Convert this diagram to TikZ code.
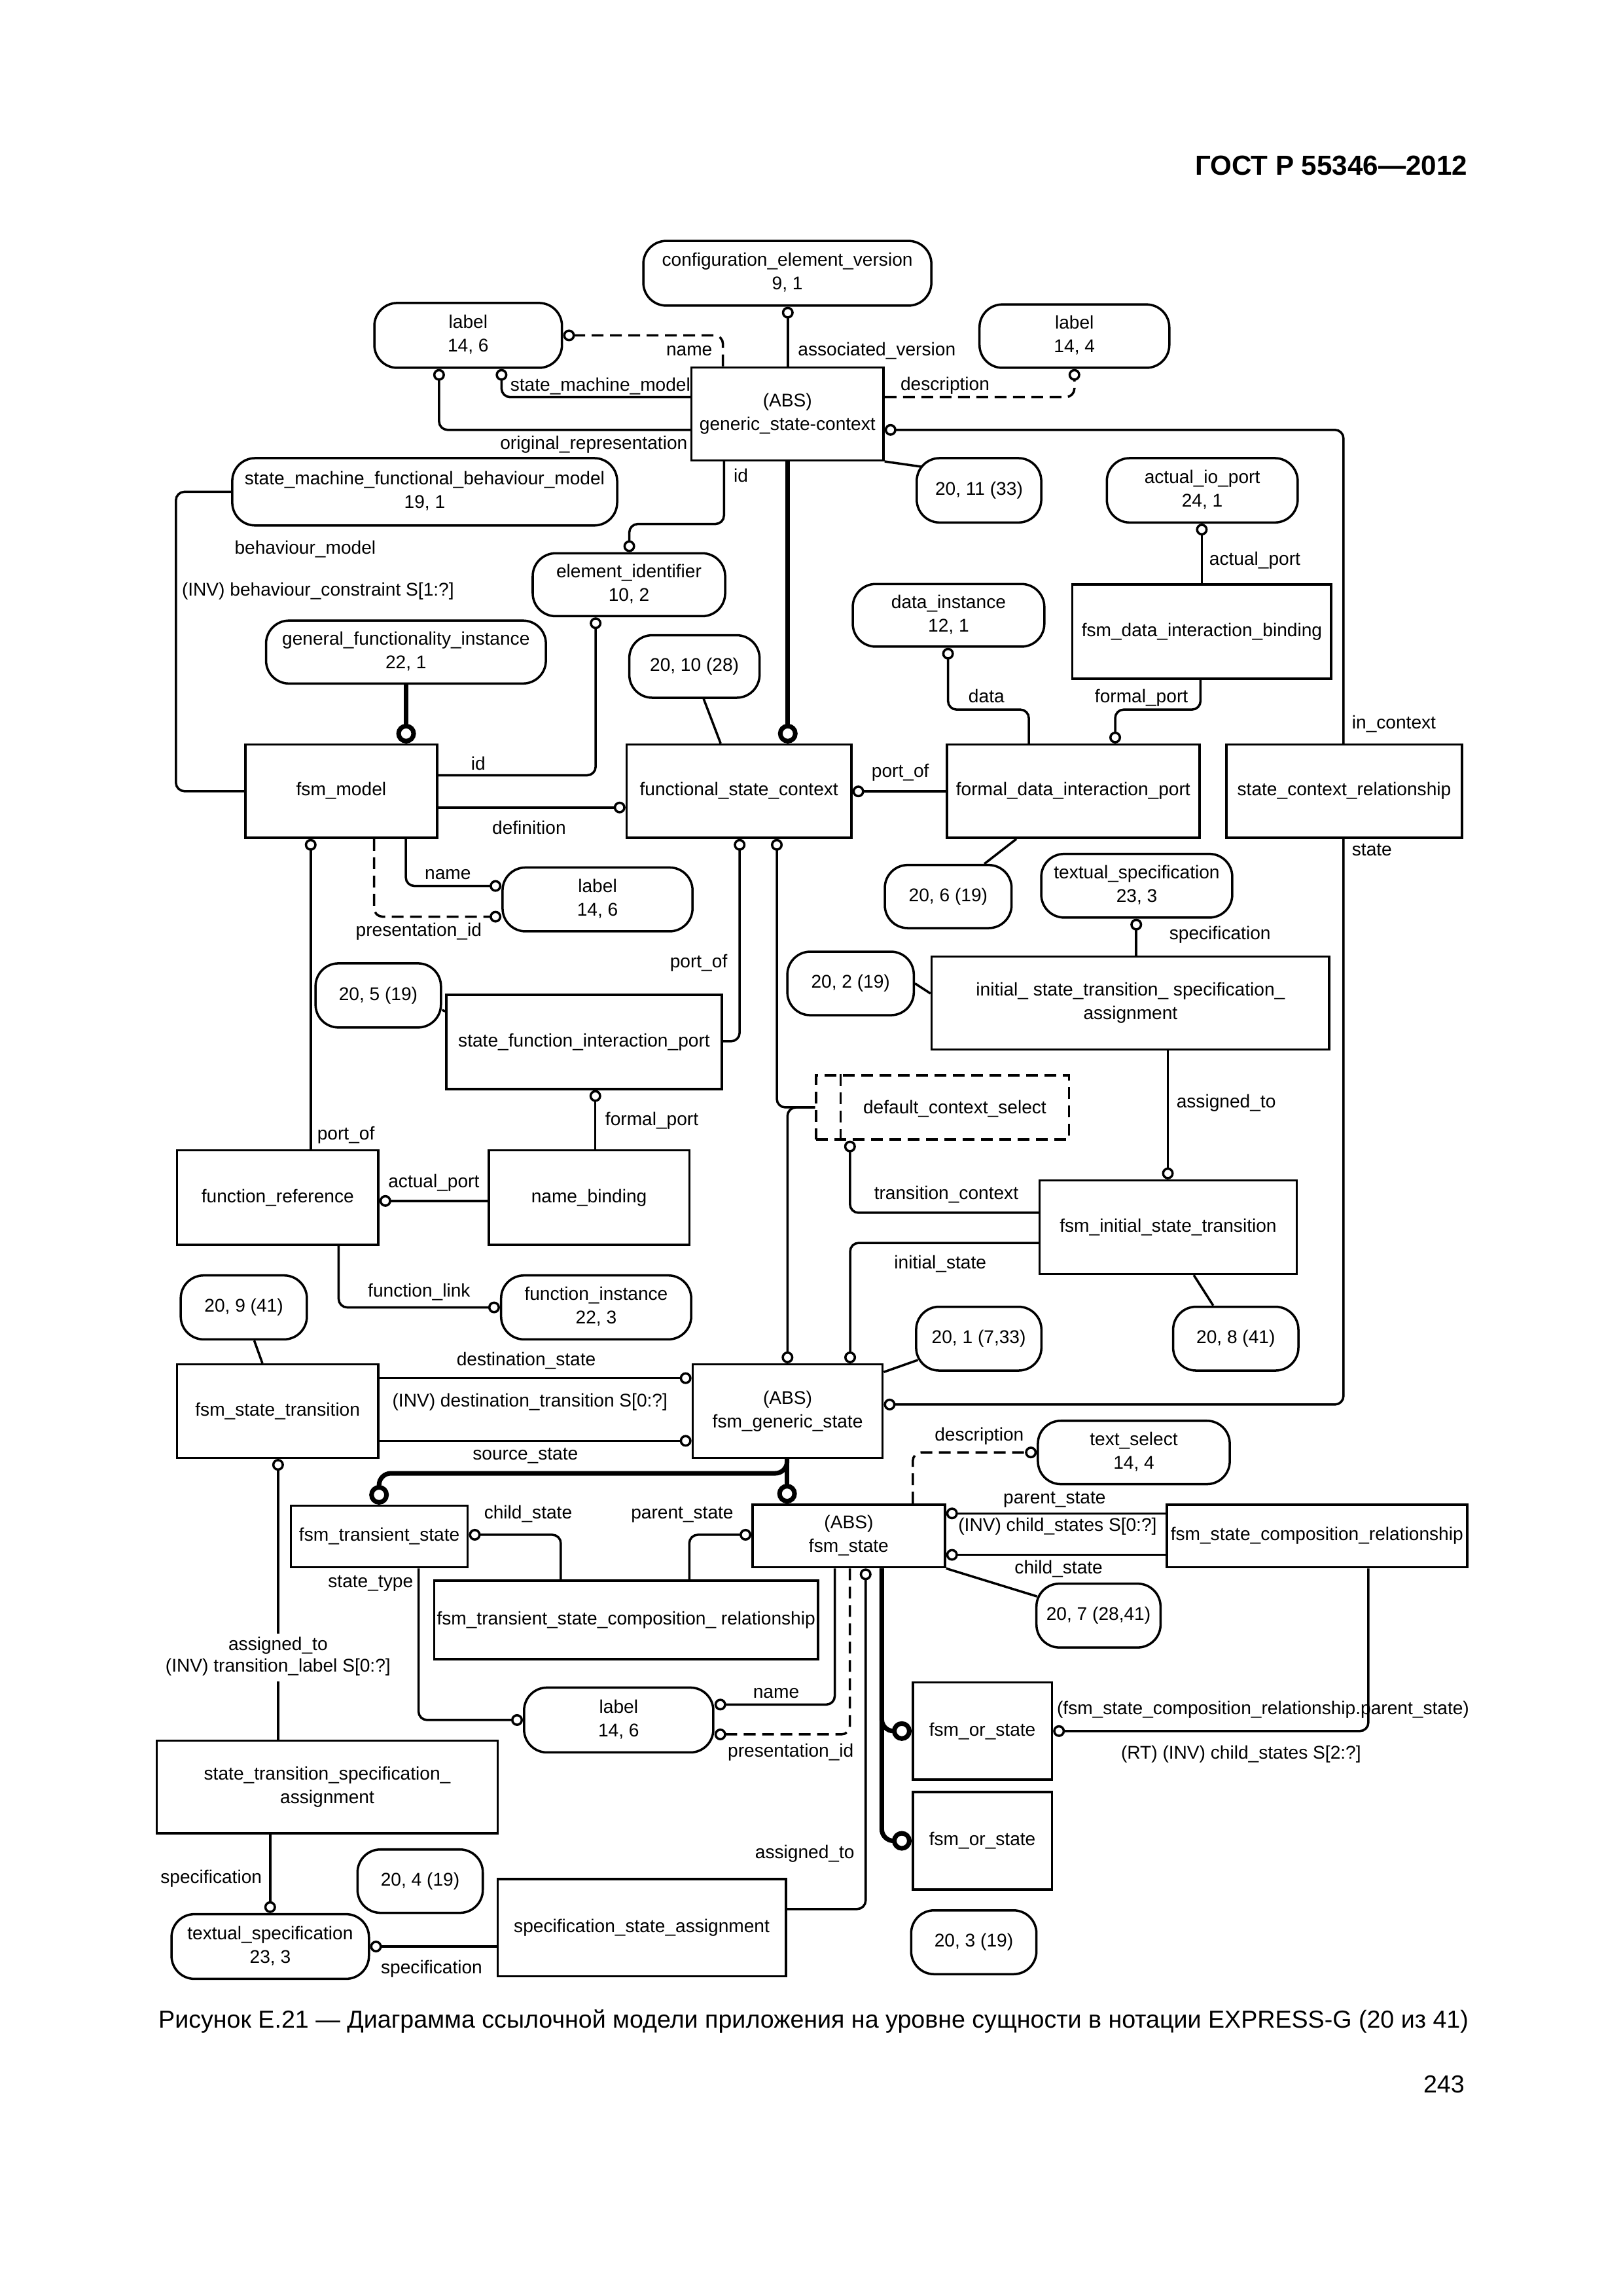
\documentclass[tikz,border=0pt]{standalone}
\usepackage{fontspec}
\setmainfont{Liberation Sans}
\usetikzlibrary{arrows.meta,fit,calc}
\newcommand{\fs}{\fontsize{8}{10.2}\selectfont}
\newcommand{\ent}[6]{\node[ebox, fit={(#2,#3) (#4,#5)}] (#1) {};
  \node[txt] (#1t) at (#1.center) {\begin{tabular}{@{}c@{}}#6\end{tabular}};}
\newcommand{\stad}[6]{\node[sbox, fit={(#2,#3) (#4,#5)}] (#1) {};
  \node[txt] (#1t) at (#1.center) {\begin{tabular}{@{}c@{}}#6\end{tabular}};}
\begin{document}
\begin{tikzpicture}[x=0.22362mm,y=-0.22362mm,
  ebox/.style={draw, line width=1pt, inner sep=0pt},
  sbox/.style={draw, line width=1pt, rounded corners=3.5mm, inner sep=0pt},
  txt/.style={inner sep=0pt, font=\fs},
  conn/.style={line width=1pt, rounded corners=1.3mm},
  thk/.style={line width=2pt, rounded corners=1.8mm},
  oc/.style={-{Circle[open,length=1.8mm,width=1.8mm]}},
  OC/.style={-{Circle[open,length=3mm,width=3mm]}},
  dsh/.style={dash pattern=on 1.8mm off 1mm},
  lbl/.style={inner sep=0pt, font=\fs, text height=6pt, text depth=0.5pt},
]
\useasboundingbox (0,0) rectangle (1109,1568.7);

% header, caption, page number
\node[anchor=east, inner sep=0pt, font=\bfseries\fontsize{12}{14}\selectfont] (hdr) at (1003,113) {ГОСТ Р 55346—2012};
\node[anchor=west, inner sep=0pt, font=\fontsize{10.7}{12}\selectfont] (cap) at (108,1381) {Рисунок Е.21 — Диаграмма ссылочной модели приложения на уровне сущности в нотации EXPRESS-G (20 из 41)};
\node[anchor=east, inner sep=0pt, font=\fontsize{10.7}{12}\selectfont] (pgn) at (1001,1424) {243};

% entity boxes
\ent{gsc}{472.5}{251}{603.7}{314.5}{(ABS)\\generic\_state-context}
\ent{fdib}{732.8}{399.4}{909.6}{463.8}{fsm\_data\_interaction\_binding}
\ent{fsmm}{167.7}{508.7}{298.6}{572.4}{fsm\_model}
\ent{fsc}{428.2}{508.7}{581.7}{572.4}{functional\_state\_context}
\ent{fdip}{647}{508.7}{819.6}{572.4}{formal\_data\_interaction\_port}
\ent{scr}{838}{508.7}{999}{572.4}{state\_context\_relationship}
\ent{istsa}{636.6}{653.6}{908.3}{717}{initial\_ state\_transition\_ specification\_\\assignment}
\ent{sfip}{305}{679.7}{493.2}{744}{state\_function\_interaction\_port}
\node[ebox, dsh, fit={(557.7,734.7) (730.5,778.5)}] (dcs) {};
\draw[line width=1pt, dsh] (574.3,0 |- dcs.north) -- (574.3,0 |- dcs.south);
\node[lbl] (dcst) at (652.4,756.6) {default\_context\_select};
\ent{fref}{121}{786}{258.5}{850.5}{function\_reference}
\ent{nb}{334}{786}{471}{850.5}{name\_binding}
\ent{fist}{710.4}{806.5}{886}{870.4}{fsm\_initial\_state\_transition}
\ent{fst}{121}{932.2}{258.4}{996}{fsm\_state\_transition}
\ent{fgs}{473.3}{932.2}{603.1}{996}{(ABS)\\fsm\_generic\_state}
\ent{fts}{198.8}{1028.8}{319.6}{1070.8}{fsm\_transient\_state}
\ent{fss}{514.2}{1028}{645.7}{1070.8}{(ABS)\\fsm\_state}
\ent{fscr}{797.2}{1028}{1002.5}{1070.8}{fsm\_state\_composition\_relationship}
\ent{ftscr}{296.7}{1080}{558.9}{1133.6}{fsm\_transient\_state\_composition\_ relationship}
\ent{fos1}{623.7}{1149.5}{718.8}{1215.9}{fsm\_or\_state}
\ent{fos2}{623.7}{1224.4}{718.8}{1291}{fsm\_or\_state}
\ent{stsa}{107.2}{1189.3}{340}{1252.6}{state\_transition\_specification\_\\assignment}
\ent{ssa}{340}{1283.9}{537}{1350.2}{specification\_state\_assignment}

% stadium nodes
\stad{cev}{439.6}{164.6}{636.4}{208.8}{configuration\_element\_version\\9, 1}
\stad{lblA}{255.8}{207}{384}{251.3}{label\\14, 6}
\stad{lblB}{669.3}{208}{799}{251.3}{label\\14, 4}
\stad{smfbm}{158.7}{313}{421.7}{359}{state\_machine\_functional\_behaviour\_model\\19, 1}
\stad{rA}{626.4}{313}{711.5}{357}{20, 11 (33)}
\stad{aiop}{756.3}{313}{886.7}{357}{actual\_io\_port\\24, 1}
\stad{eid}{364}{378}{495.5}{421}{element\_identifier\\10, 2}
\stad{dinst}{582.7}{399}{713.6}{441.8}{data\_instance\\12, 1}
\stad{gfi}{181.8}{424}{373}{467}{general\_functionality\_instance\\22, 1}
\stad{rB}{430}{434}{519}{476.7}{20, 10 (28)}
\stad{lblC}{343.4}{592.7}{473.2}{636.3}{label\\14, 6}
\stad{rC}{604.6}{591}{691.2}{634.1}{20, 6 (19)}
\stad{tspecA}{711.5}{583.4}{842}{626.9}{textual\_specification\\23, 3}
\stad{rD}{215.6}{658.2}{301.3}{702}{20, 5 (19)}
\stad{rE}{538}{650.2}{624.4}{693.6}{20, 2 (19)}
\stad{rF}{123.5}{871.4}{209.7}{915.1}{20, 9 (41)}
\stad{finst}{342.4}{871.4}{472.3}{915.1}{function\_instance\\22, 3}
\stad{rG}{626}{892.8}{711.6}{936.4}{20, 1 (7,33)}
\stad{rH}{801.6}{892.8}{887.2}{936.4}{20, 8 (41)}
\stad{tsel}{709.2}{970.7}{840.3}{1014}{text\_select\\14, 4}
\stad{rI}{708.2}{1082}{793}{1125.6}{20, 7 (28,41)}
\stad{lblD}{358.1}{1153}{487.4}{1197.3}{label\\14, 6}
\stad{rJ}{244.3}{1263.6}{329.9}{1306.9}{20, 4 (19)}
\stad{tspecB}{117.2}{1307.8}{252.1}{1352}{textual\_specification\\23, 3}
\stad{rK}{622.6}{1305.2}{708.2}{1348.8}{20, 3 (19)}

% connectors
\draw[conn,oc] (538.3,0 |- gsc.north) -- (538.3,0 |- cev.south);
\draw[conn,dsh,oc] (494,0 |- gsc.north) |- (lblA.east);
\draw[conn,oc] (gsc.west |- 0,271.3) -| (342.7,0 |- lblA.south);
\draw[conn,oc] (gsc.west |- 0,293.7) -| (300,0 |- lblA.south);
\draw[conn,dsh,oc] (gsc.east |- 0,271.3) -| (lblB.south);
\draw[conn,oc] (918,0 |- scr.north) |- (gsc.east |- 0,293.7);
\draw[conn] (gsc.south east) -- ([shift={(4.4,6.7)}]rA.north west);
\draw[conn,oc] (494.7,0 |- gsc.south) -- (494.7,358) -| (430,0 |- eid.north);
\draw[thk,OC] (538.3,0 |- gsc.south) -- (538.3,0 |- fsc.north);
\draw[conn] (smfbm.west) -| (120.2,0 |- fsmm.west) -- (fsmm.west);
\draw[thk,OC] (277.5,0 |- gfi.south) -- (277.5,0 |- fsmm.north);
\draw[conn,oc] (fsmm.east |- 0,529.7) -| (407,0 |- eid.south);
\draw[conn,oc] (fsmm.east |- 0,551.7) -- (fsc.west |- 0,551.7);
\draw[conn] (480.8,0 |- rB.south) -- (492.4,0 |- fsc.north);
\draw[conn,oc] (fdip.west |- 0,540.7) -- (fsc.east |- 0,540.7);
\draw[conn,oc] (703,0 |- fdip.north) -- (703,484.8) -- (647.8,484.8) -- (647.8,0 |- dinst.south);
\draw[conn,oc] (820.3,0 |- fdib.south) -- (820.3,484.8) -- (762,484.8) -- (762,0 |- fdip.north);
\draw[conn,oc] (821.2,0 |- fdib.north) -- (821.2,0 |- aiop.south);
\draw[conn] (694.5,0 |- fdip.south) -- (672.6,0 |- rC.north);
\draw[conn,oc] (918,0 |- scr.south) |- (fgs.east |- 0,959.6);
\draw[conn,oc] (277.3,0 |- fsmm.south) |- (lblC.west |- 0,605.3);
\draw[conn,dsh,oc] (255.6,0 |- fsmm.south) |- (lblC.west |- 0,626.3);
\draw[conn,oc] (212.3,0 |- fref.north) -- (212.3,0 |- fsmm.south);
\draw[conn,oc] (sfip.east |- 0,711.4) -| (505.4,0 |- fsc.south);
\draw[conn,oc] (dcs.west |- 0,756.6) -| (530.8,0 |- fsc.south);
\draw[conn,oc] (dcs.west |- 0,756.6) -| (538.1,0 |- fgs.north);
\draw[conn] (rD.east |- 0,690) -- (sfip.west |- 0,691);
\draw[conn,oc] (406.8,0 |- nb.north) -- (406.8,0 |- sfip.south);
\draw[conn,oc] (nb.west |- 0,820.5) -- (fref.east |- 0,820.5);
\draw[conn,oc] (231.4,0 |- fref.south) |- (finst.west);
\draw[conn,oc] (776.4,0 |- istsa.north) -- (776.4,0 |- tspecA.south);
\draw[conn] (rE.east) -- (istsa.west |- 0,678.8);
\draw[conn,oc] (798,0 |- istsa.south) -- (798,0 |- fist.north);
\draw[conn,oc] (fist.west |- 0,828.6) -| (580.8,0 |- dcs.south);
\draw[conn,oc] (fist.west |- 0,849.2) -| (580.9,0 |- fgs.north);
\draw[conn] (815.7,0 |- fist.south) -- (829,0 |- rH.north);
\draw[conn] ([shift={(0,6)}]fgs.north east) -- ([shift={(2,-8)}]rG.south west);
\draw[conn,oc] (fst.east |- 0,941.6) -- (fgs.west |- 0,941.6);
\draw[conn,oc] (fst.east |- 0,984.4) -- (fgs.west |- 0,984.4);
\draw[conn] (173.7,0 |- rF.south) -- (179.3,0 |- fst.north);
\draw[conn] (190,0 |- stsa.north) -- (190,1148.7);
\draw[conn,oc] (190,1116) -- (190,0 |- fst.south);
\draw[conn,oc] (184.6,0 |- stsa.south) -- (184.6,0 |- tspecB.north);
\draw[conn,oc] (ssa.west |- tspecB.east) -- (tspecB.east);
\draw[conn,oc] (ssa.east |- 0,1304.3) -| (591.5,0 |- fss.south);
\draw[thk,OC] (537.8,0 |- fgs.south) -- (537.8,0 |- fss.north);
\draw[thk,OC] (537.8,0 |- fgs.south) -- (537.8,1006.6) -| (259,0 |- fts.north);
\draw[conn,oc] (383.2,0 |- ftscr.north) |- (fts.east |- 0,1048.6);
\draw[conn,oc] (471,0 |- ftscr.north) |- (fss.west |- 0,1048.6);
\draw[conn,oc] (286,0 |- fts.south) |- (lblD.west);
\draw[conn,dsh,oc] (623.7,0 |- fss.north) |- (tsel.west);
\draw[conn,oc] (fscr.west |- 0,1034) -- (fss.east |- 0,1034);
\draw[conn,oc] (fscr.west |- 0,1062.3) -- (fss.east |- 0,1062.3);
\draw[conn] (fss.south east) -- ([shift={(1.2,9.5)}]rI.north west);
\draw[conn,oc] (570.4,0 |- fss.south) |- (lblD.east |- 0,1164.6);
\draw[conn,dsh,oc] (580.7,0 |- fss.south) |- (lblD.east |- 0,1185);
\draw[thk,OC] (602.5,0 |- fss.south) |- (fos1.west);
\draw[thk,OC] (602.5,0 |- fss.south) |- (fos2.west);
\draw[conn,oc] (935,0 |- fscr.south) |- (fos1.east);

% role labels
\node[lbl,anchor=west] (t1) at (545,238.5) {associated\_version};
\node[lbl,anchor=east] (t2) at (487,238.5) {name};
\node[lbl,anchor=west] (t3) at (348.4,263) {state\_machine\_model};
\node[lbl,anchor=east] (t4) at (470,302.6) {original\_representation};
\node[lbl,anchor=west] (t5) at (615,262.4) {description};
\node[lbl,anchor=west] (t6) at (501,325) {id};
\node[lbl,anchor=west] (t7) at (160,374) {behaviour\_model};
\node[lbl,anchor=west] (t8) at (124,403) {(INV) behaviour\_constraint S[1:?]};
\node[lbl,anchor=west] (t9) at (321.6,521.7) {id};
\node[lbl] (t10) at (361.5,565.6) {definition};
\node[lbl,anchor=west] (t11) at (595.3,526.7) {port\_of};
\node[lbl,anchor=west] (t12) at (661.5,475.8) {data};
\node[lbl,anchor=west] (t13) at (747.8,475.8) {formal\_port};
\node[lbl,anchor=west] (t14) at (826,382) {actual\_port};
\node[lbl,anchor=west] (t15) at (923.5,493.7) {in\_context};
\node[lbl,anchor=west] (t16) at (923.5,580.5) {state};
\node[lbl,anchor=west] (t17) at (290,596.6) {name};
\node[lbl,anchor=west] (t18) at (242.8,635.2) {presentation\_id};
\node[lbl,anchor=west] (t19) at (216.5,774.5) {port\_of};
\node[lbl,anchor=west] (t20) at (457.5,656.8) {port\_of};
\node[lbl,anchor=west] (t21) at (413.3,764.7) {formal\_port};
\node[lbl,anchor=west] (t22) at (265,807) {actual\_port};
\node[lbl,anchor=west] (t23) at (251.1,881.7) {function\_link};
\node[lbl,anchor=west] (t24) at (798.7,637.8) {specification};
\node[lbl,anchor=west] (t25) at (803.6,752.6) {assigned\_to};
\node[lbl,anchor=west] (t26) at (597,815) {transition\_context};
\node[lbl,anchor=west] (t27) at (610.7,862.4) {initial\_state};
\node[lbl,anchor=west] (t28) at (311.7,928.8) {destination\_state};
\node[lbl,anchor=west] (t29) at (267.8,957) {(INV) destination\_transition S[0:?]};
\node[lbl,anchor=west] (t30) at (322.7,992.9) {source\_state};
\node[lbl] (t31) at (190,1123) {assigned\_to};
\node[lbl] (t32) at (190,1138) {(INV) transition\_label S[0:?]};
\node[lbl,anchor=west] (t33) at (109.4,1282.2) {specification};
\node[lbl,anchor=west] (t34) at (260,1344) {specification};
\node[lbl,anchor=west] (t35) at (515.7,1265.5) {assigned\_to};
\node[lbl,anchor=west] (t36) at (330.5,1033.2) {child\_state};
\node[lbl,anchor=west] (t37) at (430.9,1033.2) {parent\_state};
\node[lbl,anchor=west] (t38) at (223.9,1080.2) {state\_type};
\node[lbl,anchor=west] (t39) at (638.4,980) {description};
\node[lbl,anchor=west] (t40) at (685.3,1022.9) {parent\_state};
\node[lbl,anchor=west] (t41) at (654.5,1041.7) {(INV) child\_states S[0:?]};
\node[lbl,anchor=west] (t42) at (693,1070.8) {child\_state};
\node[lbl,anchor=west] (t43) at (514.3,1156) {name};
\node[lbl,anchor=west] (t44) at (497,1196.2) {presentation\_id};
\node[lbl,anchor=west] (t45) at (721.9,1167.2) {(fsm\_state\_composition\_relationship.parent\_state)};
\node[lbl,anchor=west] (t46) at (765.7,1197.3) {(RT) (INV) child\_states S[2:?]};
\end{tikzpicture}
\end{document}
